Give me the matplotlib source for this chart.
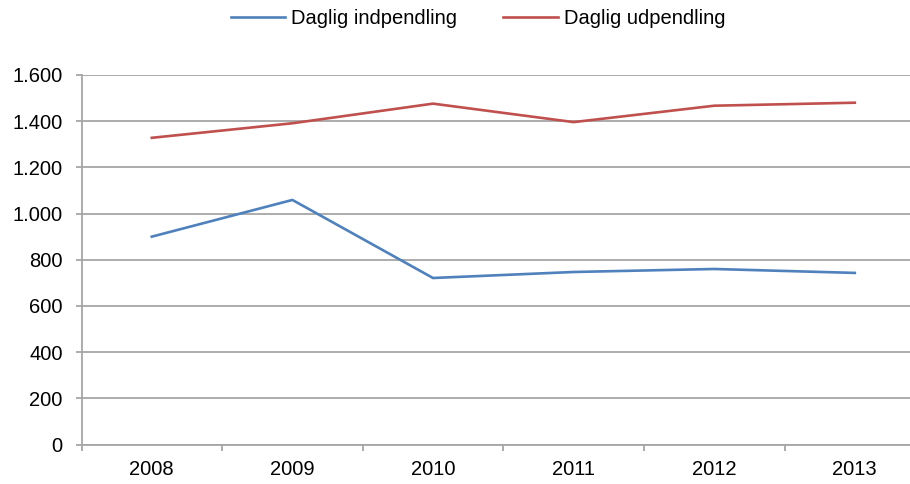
import matplotlib
matplotlib.use("Agg")
import matplotlib.pyplot as plt
import numpy as np

plt.rcParams['font.family'] = ['Liberation Sans', 'DejaVu Sans']

years = ['2008', '2009', '2010', '2011', '2012', '2013']
indpendling = [900, 1059, 721, 747, 760, 743]
udpendling = [1328, 1391, 1476, 1396, 1467, 1480]

blue = '#4F81BD'
red = '#C0504D'
grid = '#a6a6a6'

fig = plt.figure(figsize=(9.1, 4.84), dpi=100)
ax = fig.add_axes([81.5 / 910, 39.5 / 484, 843.6 / 910, 369.5 / 484])

x = np.arange(len(years))
ax.plot(x, indpendling, color=blue, lw=1.9, label='Daglig indpendling')
ax.plot(x, udpendling, color=red, lw=1.9, label='Daglig udpendling')

ax.set_xlim(-0.5, len(years) - 0.5)
ax.set_ylim(0, 1600)
ax.set_yticks(np.arange(0, 1601, 200))
ax.set_yticklabels([f'{v:,}'.replace(',', '.') for v in range(0, 1601, 200)])
ax.set_xticks(x)
ax.set_xticklabels(years)
ax.set_xticks(np.arange(-0.5, len(years)), minor=True)

ax.grid(axis='y', color=grid, lw=1.3)
ax.set_axisbelow(True)
for s in ['top', 'right']:
    ax.spines[s].set_visible(False)
for s in ['left', 'bottom']:
    ax.spines[s].set_color(grid)
    ax.spines[s].set_linewidth(1.3)

ax.tick_params(axis='y', length=4.5, width=1.3, color=grid, pad=9, labelsize=14.5)
ax.tick_params(axis='x', which='major', length=0, pad=11, labelsize=14.5)
ax.tick_params(axis='x', which='minor', length=4.5, width=1.3, color=grid)

fig.legend(loc='center', bbox_to_anchor=(478 / 910, 1 - 19 / 484), ncol=2,
           frameon=False, fontsize=14.5, handlelength=2.7, handletextpad=0.3,
           columnspacing=2.3)

fig.savefig('out.png', dpi=100)
